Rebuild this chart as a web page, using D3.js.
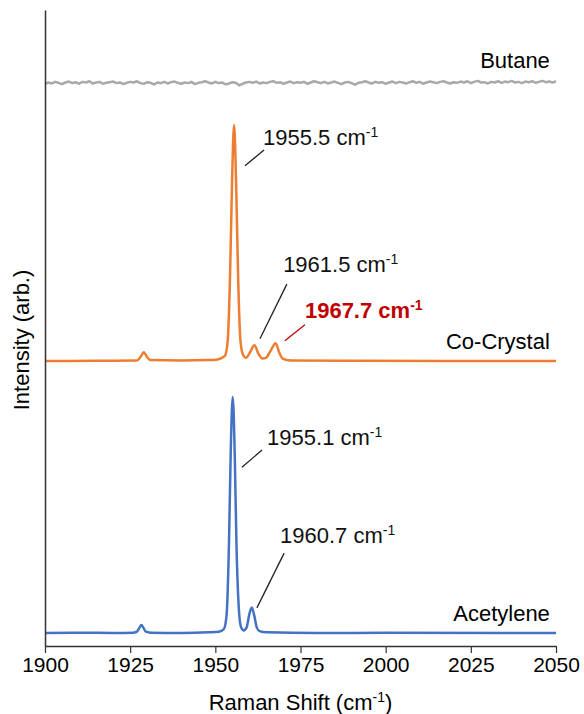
<!DOCTYPE html>
<html>
<head>
<meta charset="utf-8">
<script src="https://cdn.jsdelivr.net/npm/d3@7"></script>
<style>
  body { margin: 0; background: #fff; }
  svg text { font-family: "Liberation Sans", Arial, sans-serif; fill: #000; }
</style>
</head>
<body>
<div class="graphContainer"></div>
<script>
// spectra, intensities relative to each trace's baseline (arb.)
const xTicks = [1900, 1925, 1950, 1975, 2000, 2025, 2050];

const acetyleneX = [1900, 1910, 1920, 1926, 1927, 1927.7, 1928.3, 1928.9, 1929.6, 1931, 1940, 1948, 1951, 1952.5, 1953.3, 1954, 1954.5, 1955.1, 1955.7, 1956.2, 1956.9, 1957.5, 1958.3, 1959.2, 1960, 1960.7, 1961.4, 1962.2, 1963, 1965, 1980, 2000, 2050];
const acetyleneY = [0, 0.05, 0, 0.05, 0.2, 0.8, 1.25, 0.8, 0.2, 0.05, 0, 0.1, 0.2, 0.6, 2.8, 14, 28, 37.1, 28, 14, 3.8, 1.0, 0.4, 0.9, 3.0, 4.0, 2.8, 0.8, 0.3, 0.1, 0, 0.02, 0];

const cocrystalX = [1900, 1915, 1927, 1928, 1929, 1930, 1931, 1940, 1948, 1951, 1952.8, 1953.6, 1954.3, 1954.9, 1955.5, 1956.1, 1956.7, 1957.4, 1958.2, 1959, 1960, 1961.5, 1962.6, 1963.8, 1964.8, 1966.2, 1967.7, 1968.8, 1969.8, 1972, 1990, 2050];
const cocrystalY = [0, 0.05, 0.1, 0.6, 1.4, 0.6, 0.15, 0.1, 0.15, 0.3, 0.8, 3, 13, 28, 37.1, 28, 13, 3, 0.9, 0.5, 1.2, 2.5, 1.2, 0.4, 0.5, 1.6, 2.8, 1.3, 0.4, 0.1, 0.05, 0];

// butane noise, one value every 1 cm-1 from 1900
const butaneY = [
  -0.1, 0.1, -0.05, 0.2, 0.05, -0.15, 0.1, 0.25, 0.0, 0.15, -0.1, 0.2, 0.1, 0.3, -0.05, 0.1, 0.2, -0.1, 0.05, 0.15,
  0.25, 0.0, 0.1, -0.15, 0.05, 0.2, 0.1, 0.3, 0.0, -0.1, 0.15, 0.05, -0.2, 0.1, 0.0, 0.2, -0.05, 0.15, 0.25, 0.05,
  -0.1, 0.1, 0.0, 0.2, -0.15, 0.05, 0.15, 0.3, 0.1, -0.05, 0.2, 0.0, 0.1, -0.2, -0.05, 0.15, 0.05, -0.35, -0.1, 0.1,
  0.2, 0.05, 0.25, -0.05, 0.1, 0.0, 0.2, 0.3, 0.05, 0.15, -0.1, 0.1, 0.25, 0.0, 0.15, 0.05, 0.2, -0.1, 0.1, 0.3,
  0.15, 0.0, 0.2, -0.05, 0.1, 0.25, 0.05, -0.15, 0.1, 0.2, 0.0, -0.25, 0.05, 0.15, 0.3, 0.1, -0.05, 0.2, 0.05, 0.15,
  -0.1, 0.1, 0.25, 0.0, 0.2, 0.1, -0.05, 0.15, 0.3, 0.05, 0.2, -0.1, 0.1, 0.25, 0.15, 0.0, 0.2, 0.3, 0.1, -0.05,
  0.15, 0.05, 0.25, 0.1, 0.3, 0.0, 0.2, 0.35, 0.1, 0.15, -0.05, 0.2, 0.1, 0.3, 0.05, 0.25, 0.15, 0.35, 0.1, 0.2,
  0.0, 0.25, 0.15, 0.3, 0.05, 0.2, 0.35, 0.15, 0.25, 0.1, 0.3
];

const seriesNames = ["Butane", "Co-Crystal", "Acetylene"];
const seriesOffsets = [88.5, 44.8, 2.05];

// peak labels: [label anchor x, label anchor y, line start x, line start y, line end x, line end y]
const peakLabels = ["1955.5", "1961.5", "1967.7", "1955.1", "1960.7"];
const peakLabelPos = [
  [1964.0, 78.8, 1958.7, 75.5, 1964.3, 78.0],
  [1969.9, 58.8, 1963.1, 48.3, 1971.0, 56.9],
  [1976.3, 51.6, 1970.4, 48.0, 1976.3, 50.5],
  [1965.2, 31.6, 1957.8, 28.1, 1963.7, 30.8],
  [1969.0, 16.2, 1962.2, 6.0, 1970.2, 14.6]
];

const w = 584;
const h = 714;
const mLeft = 45, mRight = 556, mTop = 10, mBottom = 646;

const svg = d3.select(".graphContainer")
  .append("svg")
  .attr("width", w)
  .attr("height", h);

const xScale = d3.scaleLinear().domain([1900, 2050]).range([mLeft, mRight]);
const yScale = d3.scaleLinear().domain([0, 100]).range([mBottom, mTop]);

const line = d3.line()
  .x(d => xScale(d[0]))
  .y(d => yScale(d[1]))
  .curve(d3.curveMonotoneX);

const butaneData = butaneY.map((v, i) => [1900 + i, seriesOffsets[0] + v]);
const coData = cocrystalX.map((x, i) => [x, seriesOffsets[1] + cocrystalY[i]]);
const acData = acetyleneX.map((x, i) => [x, seriesOffsets[2] + acetyleneY[i]]);

svg.append("path")
  .attr("d", d3.line().x(d => xScale(d[0])).y(d => yScale(d[1]))(butaneData))
  .attr("fill", "none")
  .attr("stroke", "#a9a9a9")
  .attr("stroke-width", 2.5)
  .attr("stroke-linejoin", "round");

svg.append("path")
  .attr("d", line(coData))
  .attr("fill", "none")
  .attr("stroke", "#ed7d31")
  .attr("stroke-width", 2.5);

svg.append("path")
  .attr("d", line(acData))
  .attr("fill", "none")
  .attr("stroke", "#4472c4")
  .attr("stroke-width", 2.5);

// axes
const xAxis = d3.axisBottom(xScale)
  .tickValues(xTicks)
  .tickSize(7)
  .tickSizeOuter(0)
  .tickPadding(4)
  .tickFormat(d3.format("d"));

const gx = svg.append("g")
  .attr("transform", "translate(0," + mBottom + ")")
  .call(xAxis);
gx.select(".domain").attr("stroke", "#333").attr("stroke-width", 1.5);
gx.selectAll(".tick line").attr("stroke", "#333").attr("stroke-width", 1.2);
gx.selectAll(".tick text")
  .attr("font-size", 21)
  .attr("font-family", "Liberation Sans, Arial, sans-serif")
  .attr("fill", "#111");

const gy = svg.append("g")
  .attr("transform", "translate(" + mLeft + ",0)")
  .call(d3.axisLeft(yScale).tickValues([]).tickSizeOuter(0));
gy.select(".domain").attr("stroke", "#333").attr("stroke-width", 1.5);

// axis titles
const xt = svg.append("text")
  .attr("x", (mLeft + mRight) / 2)
  .attr("y", 710)
  .attr("text-anchor", "middle")
  .attr("font-size", 22);
xt.append("tspan").text("Raman Shift (cm");
xt.append("tspan").attr("font-size", 14).attr("dy", -8).text("-1");
xt.append("tspan").attr("dy", 8).text(")");

svg.append("text")
  .attr("transform", "translate(29," + ((mTop + mBottom) / 2 + 12) + ") rotate(-90)")
  .attr("text-anchor", "middle")
  .attr("font-size", 22)
  .text("Intensity (arb.)");

// series labels
const labelY = [90.9, 46.7, 3.9];
svg.selectAll(".slabel")
  .data(seriesNames)
  .enter()
  .append("text")
  .attr("class", "slabel")
  .attr("x", xScale(2048.2))
  .attr("y", (d, i) => yScale(labelY[i]))
  .attr("text-anchor", "end")
  .attr("font-size", 22)
  .text(d => d);

// peak annotations
peakLabels.forEach((lab, i) => {
  const p = peakLabelPos[i];
  const red = lab === "1967.7";
  const col = red ? "#c00000" : "#222";
  svg.append("line")
    .attr("x1", xScale(p[2])).attr("y1", yScale(p[3]))
    .attr("x2", xScale(p[4])).attr("y2", yScale(p[5]))
    .attr("stroke", col)
    .attr("stroke-width", 1.3);
  const t = svg.append("text")
    .attr("x", xScale(p[0]))
    .attr("y", yScale(p[1]))
    .attr("font-size", 22)
    .attr("font-weight", red ? "bold" : "normal")
    .style("fill", red ? "#c00000" : "#111");
  t.append("tspan").text(lab + " cm");
  t.append("tspan").attr("font-size", 14).attr("dy", -8).text("-1");
});
</script>
</body>
</html>
